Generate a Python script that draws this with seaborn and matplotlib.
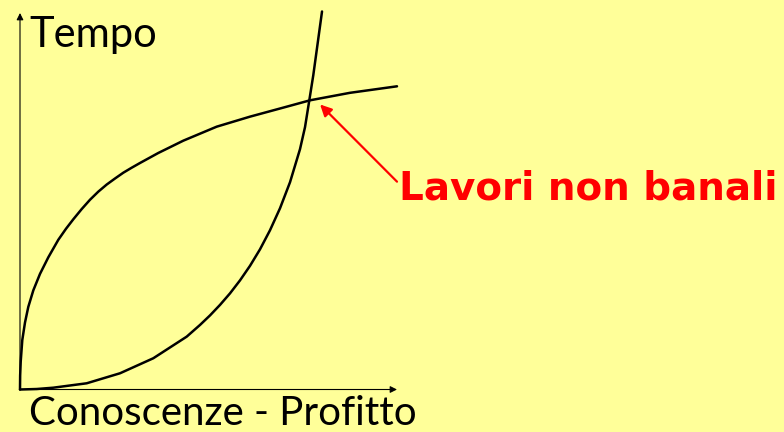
import matplotlib
matplotlib.use("Agg")
import matplotlib.pyplot as plt
import seaborn as sns
import pandas as pd

# punti (unita' arbitrarie, assi 0..10)
tempo_x = [0, 0.004, 0.019, 0.061, 0.133, 0.220, 0.353, 0.531, 0.751, 1.016,
           1.220, 1.414, 1.637, 1.857, 2.077, 2.300, 2.520, 2.740, 2.963,
           3.183, 3.668, 4.332, 5.218, 6.101, 6.984, 7.692, 8.753, 10.0]
tempo_y = [0, 0.372, 0.745, 1.316, 1.782, 2.194, 2.633, 3.072, 3.511, 3.976,
           4.269, 4.521, 4.793, 5.040, 5.255, 5.444, 5.604, 5.758, 5.891,
           6.016, 6.282, 6.609, 6.981, 7.247, 7.487, 7.681, 7.880, 8.053]
profitto_x = [0, 0.443, 0.883, 1.769, 2.653, 3.536, 4.422, 4.775, 5.040, 5.305,
              5.570, 5.836, 6.101, 6.366, 6.631, 6.897, 7.162, 7.427, 7.560,
              7.674, 7.780, 7.891, 8.011]
profitto_y = [0, 0.013, 0.048, 0.165, 0.431, 0.830, 1.404, 1.715, 1.968, 2.247,
              2.553, 2.899, 3.285, 3.723, 4.229, 4.814, 5.505, 6.383, 6.968,
              7.681, 8.351, 9.162, 10.04]
incrocio = (7.96, 7.57)
etichetta_pos = (10.0, 5.52)
etichetta = "Lavori non banali"
label_y = "Tempo"
label_x = "Conoscenze - Profitto"

giallo = "#FFFF99"
sns.set_style("white")
plt.rcParams["font.family"] = ["Lato", "DejaVu Sans"]

fig = plt.figure(figsize=(7.84, 4.32), dpi=100, facecolor=giallo)
ax = fig.add_axes([20 / 784, 42.5 / 432, 377 / 784, 376.5 / 432])
ax.set_facecolor(giallo)

a = pd.DataFrame({"x": tempo_x, "y": tempo_y})
b = pd.DataFrame({"x": profitto_x, "y": profitto_y})
sns.lineplot(data=a, x="x", y="y", color="black", lw=1.8, sort=False,
             estimator=None, ax=ax, clip_on=False)
sns.lineplot(data=b, x="x", y="y", color="black", lw=1.8, sort=False,
             estimator=None, ax=ax, clip_on=False)
for l in ax.lines:
    l.set_solid_joinstyle("round")

ax.set_xlim(0, 10)
ax.set_ylim(0, 10)
ax.axis("off")

# assi con frecce
frecce = dict(arrowstyle="-|>", color="black", lw=0.8, mutation_scale=10,
              shrinkA=0, shrinkB=0)
ax.annotate("", xy=(10, 0), xytext=(0, 0), arrowprops=frecce, annotation_clip=False)
ax.annotate("", xy=(0, 10), xytext=(0, 0), arrowprops=frecce, annotation_clip=False)

ax.text(0.24, 9.11, label_y, fontsize=30, color="black", va="baseline",
        ha="left", clip_on=False)
ax.text(0.24, -0.95, label_x, fontsize=29, color="black", va="baseline",
        ha="left", clip_on=False)

ax.annotate("", xy=incrocio, xytext=etichetta_pos,
            arrowprops=dict(arrowstyle="-|>", color="red", lw=1.6, mutation_scale=17,
                            shrinkA=0, shrinkB=0), annotation_clip=False)
ax.text(10.05, 5.04, etichetta, color="red", fontsize=28, fontweight="bold",
        family=["DejaVu Sans"], va="baseline", ha="left", clip_on=False)

fig.savefig("out.png", dpi=100, facecolor=giallo)
